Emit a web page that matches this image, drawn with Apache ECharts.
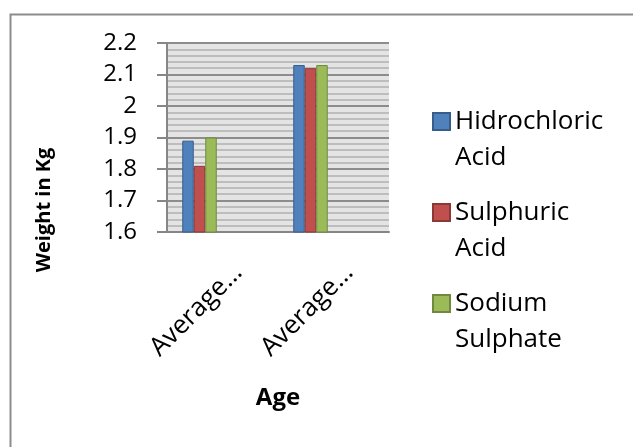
<!DOCTYPE html>
<html>
<head>
<meta charset="utf-8">
<script src="https://cdn.jsdelivr.net/npm/echarts@6/dist/echarts.min.js"></script>
<style>
  html, body { margin: 0; padding: 0; background: #fff; }
  #main { width: 633px; height: 447px; }
</style>
</head>
<body>
<div id="main"></div>
<script>
// data
var categories = ['Average…', 'Average…'];
var seriesNames = ['Hidrochloric Acid', 'Sulphuric Acid', 'Sodium Sulphate'];
var hydrochloric = [1.89, 2.13];
var sulphuric = [1.81, 2.12];
var sodium = [1.90, 2.13];
var yTicks = { min: 1.6, max: 2.2, step: 0.1 };

var FONT = '"Open Sans", sans-serif';
var fills = ['#4F81BD', '#C0504D', '#9BBB59'];
var borders = ['#385D8A', '#8C3836', '#71893F'];

var myChart = echarts.init(document.getElementById('main'));

function barSeries(name, data, i) {
    return {
        name: name,
        type: 'bar',
        data: data,
        barWidth: 11.5,
        barGap: '0%',
        itemStyle: { color: fills[i], borderColor: borders[i], borderWidth: 1 }
    };
}

var series = [
    barSeries(seriesNames[0], hydrochloric, 0),
    barSeries(seriesNames[1], sulphuric, 1),
    barSeries(seriesNames[2], sodium, 2)
];
// empty slots in the cluster (the excel chart keeps room for them)
for (var k = 0; k < 4; k++) {
    series.push({ name: 'empty' + k, type: 'bar', data: [], barWidth: 11.5, barGap: '0%' });
}

var options = {
    animation: false,
    backgroundColor: '#fff',
    textStyle: { fontFamily: FONT },
    grid: { left: 167, top: 43, right: 244, bottom: 215, show: true, backgroundColor: '#E4E4E4', borderWidth: 0 },
    legend: {
        data: seriesNames,
        orient: 'vertical',
        left: 432,
        top: 67.5,
        padding: 0,
        itemGap: -17,
        itemWidth: 17,
        itemHeight: 17,
        icon: 'rect',
        selectedMode: false,
        // blank first line so the name's first line sits next to the square
        formatter: function (name) { return '\u00A0\n' + name.replace(' ', '\n'); },
        textStyle: { fontSize: 26, color: '#000', lineHeight: 36, fontFamily: FONT }
    },
    xAxis: {
        type: 'category',
        data: categories,
        name: 'Age',
        nameLocation: 'middle',
        nameGap: 154,
        nameTextStyle: { fontSize: 24, fontWeight: 'bold', color: '#000', fontFamily: FONT },
        axisLine: { lineStyle: { color: '#868686', width: 2 } },
        axisTick: { show: false },
        axisLabel: { rotate: 45, fontSize: 26, lineHeight: 44, color: '#000', margin: 21,
                     verticalAlign: 'top', fontFamily: FONT }
    },
    yAxis: {
        type: 'value',
        min: yTicks.min,
        max: yTicks.max,
        interval: yTicks.step,
        axisLine: { show: true, lineStyle: { color: '#868686', width: 2 } },
        axisTick: { show: true, length: 10, lineStyle: { color: '#868686', width: 2 } },
        axisLabel: {
            fontSize: 24, color: '#000', margin: 30, fontFamily: FONT,
            formatter: function (v) { return String(Math.round(v * 10) / 10); }
        },
        splitLine: { show: true, lineStyle: { color: '#8C8C8C', width: 2 } },
        minorTick: { show: false, splitNumber: 5 },
        minorSplitLine: { show: true, lineStyle: { color: '#B0B0B0', width: 1.5 } }
    },
    graphic: [
        {
            type: 'rect', left: 8, top: 12, z: -1,
            shape: { width: 700, height: 500 },
            style: { fill: 'none', stroke: '#8C8C8C', lineWidth: 2 }
        },
        {
            type: 'text', x: 44, y: 210, rotation: Math.PI / 2,
            style: { text: 'Weight in Kg', fontSize: 20, fontWeight: 'bold', fill: '#000',
                     fontFamily: FONT, align: 'center', verticalAlign: 'middle' }
        }
    ],
    series: series
};
myChart.setOption(options);
</script>
</body>
</html>
